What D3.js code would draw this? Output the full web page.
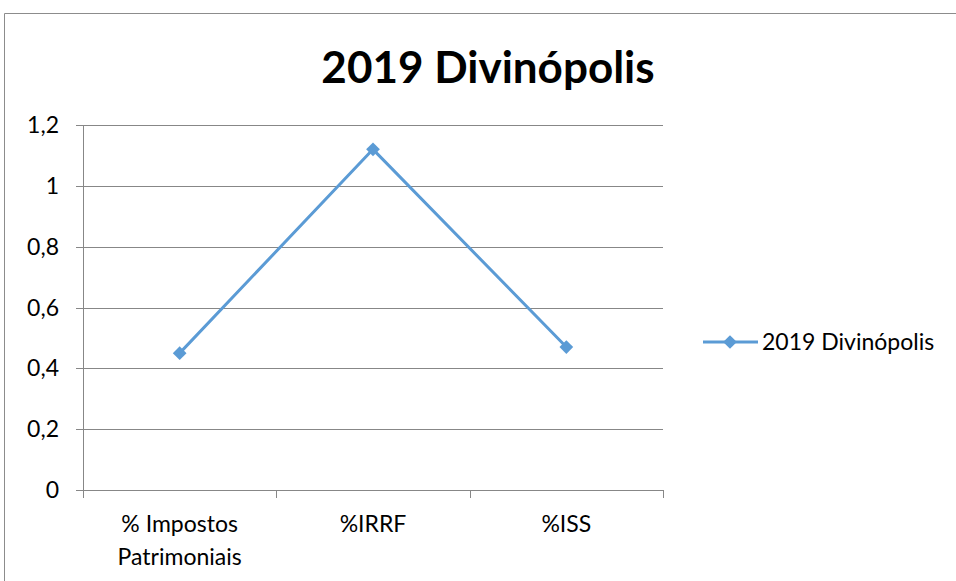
<!DOCTYPE html>
<html><head><meta charset="utf-8">
<script src="https://cdn.jsdelivr.net/npm/d3@7"></script>
<style>body{margin:0;background:#fff}svg{display:block}</style>
</head><body>
<svg id="c" width="956" height="581"></svg>
<script>
const categories = [["% Impostos","Patrimoniais"],["%IRRF"],["%ISS"]];
const values = [0.45, 1.12, 0.47];
const yTicks = [0, 0.2, 0.4, 0.6, 0.8, 1, 1.2];
const seriesName = "2019 Divinópolis";
const title = "2019 Divinópolis";

const svg = d3.select("#c");
const font = "Lato, 'Open Sans', sans-serif";
const color = "#5B9BD5";
const L = 83, R = 663, T = 125, B = 490;

svg.append("path").attr("d","M4.5,581 V13.5 H956").attr("fill","none").attr("stroke","#8c8c8c").attr("stroke-width",1);

svg.append("text").attr("x",488).attr("y",83).attr("text-anchor","middle")
  .attr("font-family",font).attr("font-weight","bold").attr("font-size",44).text(title);

const x = d3.scaleBand().domain(d3.range(categories.length)).range([L,R]);
const y = d3.scaleLinear().domain([0,1.2]).range([B,T]);

// gridlines
svg.append("g").selectAll("line").data(yTicks).join("line")
  .attr("x1",L-7).attr("x2",R).attr("y1",d=>Math.round(y(d))+0.5).attr("y2",d=>Math.round(y(d))+0.5)
  .attr("stroke","#878787").attr("stroke-width",1);
svg.append("line").attr("x1",L+0.5).attr("x2",L+0.5).attr("y1",T).attr("y2",B+8).attr("stroke","#878787");
// x ticks
const xt = d3.range(categories.length+1).map(i=>L+i*x.step());
svg.append("g").selectAll("line").data(xt).join("line")
  .attr("x1",d=>Math.round(d)+0.5).attr("x2",d=>Math.round(d)+0.5).attr("y1",B).attr("y2",B+8).attr("stroke","#878787");

svg.append("g").selectAll("text").data(yTicks).join("text")
  .attr("x",L-24).attr("y",d=>y(d)+8).attr("text-anchor","end")
  .attr("font-family",font).attr("font-size",23).attr("fill","#000")
  .text(d=>d3.format("")(d).replace(".",","));

const lbl = svg.append("g").selectAll("text").data(categories).join("text")
  .attr("text-anchor","middle").attr("font-family",font).attr("font-size",23).attr("fill","#000");
lbl.each(function(d,i){
  d3.select(this).selectAll("tspan").data(d).join("tspan")
    .attr("x",x(i)+x.bandwidth()/2).attr("y",(t,j)=>532+j*33).text(t=>t);
});

const cx = i => x(i)+x.bandwidth()/2;
svg.append("path").datum(values)
  .attr("d",d3.line().x((d,i)=>cx(i)).y(d=>y(d)))
  .attr("fill","none").attr("stroke",color).attr("stroke-width",3).attr("stroke-linejoin","round");
const diamond = d3.symbol().type(d3.symbolDiamond2).size(120);
svg.append("g").selectAll("path").data(values).join("path")
  .attr("d",diamond).attr("transform",(d,i)=>`translate(${cx(i)},${y(d)})`).attr("fill",color);

// legend
const ly = 342;
svg.append("line").attr("x1",703).attr("x2",758).attr("y1",ly).attr("y2",ly).attr("stroke",color).attr("stroke-width",3);
svg.append("path").attr("d",diamond).attr("transform",`translate(730,${ly})`).attr("fill",color);
svg.append("text").attr("x",762).attr("y",ly+8).attr("font-family",font).attr("font-size",23).text(seriesName);
</script>
</body></html>
